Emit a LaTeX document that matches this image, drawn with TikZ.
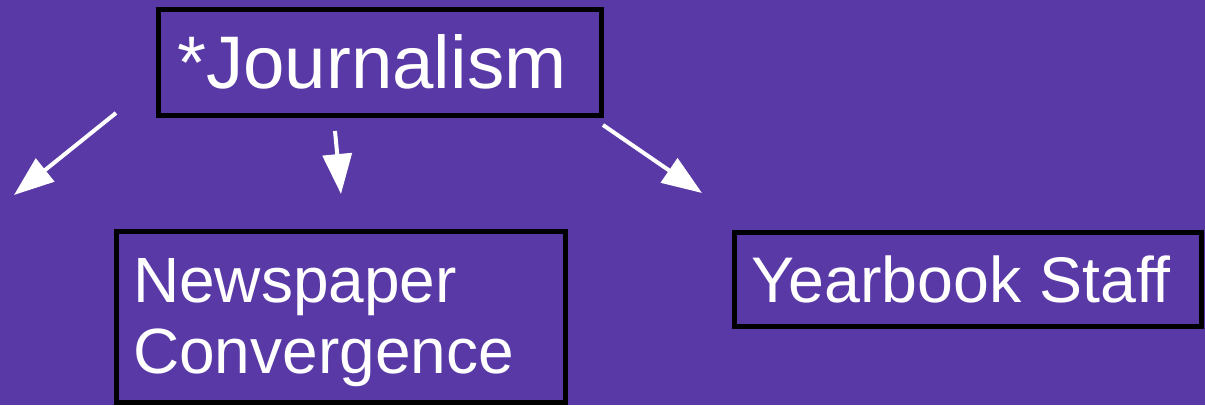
\documentclass[tikz,border=0pt]{standalone}
\usepackage{fontspec}
\setmainfont{Liberation Sans}
\usetikzlibrary{arrows.meta}
\definecolor{bgpurple}{RGB}{89,57,166}
\begin{document}
\begin{tikzpicture}[x=1pt,y=-1pt,
  box/.style={draw=black,line width=5pt,rectangle,inner sep=0pt},
  lbl/.style={text=white,inner sep=0pt,anchor=base west},
  arr/.style={draw=white,line width=4pt,-{Triangle[length=40pt,width=29pt]}}]
\fill[bgpurple] (0,0) rectangle (1205,405);
\useasboundingbox (0,0) rectangle (1205,405);
\node[box,minimum width=443pt,minimum height=106pt] (jbox) at (380,62.5) {};
\node[box,minimum width=449pt,minimum height=171pt] (nbox) at (341,317) {};
\node[box,minimum width=467pt,minimum height=94pt] (ybox) at (968,279.5) {};
\node[lbl,font=\fontsize{74.5}{80}\selectfont] (jt) at (177,88) {*Journalism};
\node[lbl,font=\fontsize{64}{71}\selectfont] (nt1) at (133,302) {Newspaper};
\node[lbl,font=\fontsize{64}{71}\selectfont] (nt2) at (133,373) {Convergence};
\node[lbl,font=\fontsize{64.5}{71}\selectfont] (yt) at (751,302) {Yearbook Staff};
\coordinate (a1s) at (116,113);
\coordinate (a1e) at (14,195);
\coordinate (a2s) at (335,131);
\coordinate (a2e) at (341,194);
\coordinate (a3s) at (603,125);
\coordinate (a3e) at (702,193);
\draw[arr] (a1s) -- (a1e);
\draw[arr] (a2s) -- (a2e);
\draw[arr] (a3s) -- (a3e);
\end{tikzpicture}
\end{document}
